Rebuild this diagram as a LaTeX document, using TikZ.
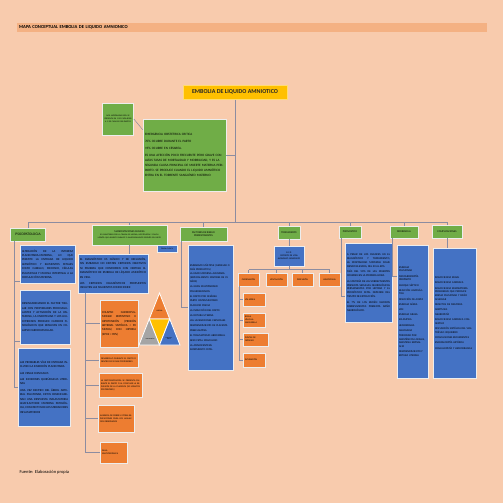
\documentclass[tikz,border=0pt]{standalone}
\usepackage{fontspec}
\setmainfont{Carlito}
\usetikzlibrary{positioning}

\definecolor{fondo}{HTML}{F8CBAD}
\definecolor{barra}{HTML}{F4B183}
\definecolor{verde}{HTML}{70AD47}
\definecolor{azul}{HTML}{4472C4}
\definecolor{naranja}{HTML}{ED7D31}
\definecolor{amarillo}{HTML}{FFC000}
\definecolor{gris}{HTML}{A5A5A5}
\definecolor{linea}{HTML}{8C8CA0}
\definecolor{borde}{HTML}{EDEDED}

\tikzset{
  caja/.style={draw=borde, line width=0.7pt, inner xsep=2pt, inner ysep=1pt, text=black,
    align=justify, font=\fontsize{3}{4.4}\selectfont},
  cabecera/.style={caja, fill=verde, align=center, font=\fontsize{2.6}{3}\selectfont},
  cazul/.style={caja, fill=azul},
  cnaranja/.style={caja, fill=naranja},
  lista/.style={align=left},
  chica/.style={font=\fontsize{2.3}{3}\selectfont},
  conector/.style={draw=linea, line width=0.5pt},
  tri/.style={draw=white, line width=0.8pt},
}

\begin{document}
\begin{tikzpicture}[x=1pt,y=-1pt]
  \useasboundingbox (0,0) rectangle (503,503);
  \fill[fondo] (0,0) rectangle (503,503);

  \node[fill=barra, anchor=north west, minimum height=9pt, text width=466pt, inner xsep=2pt, inner ysep=0pt,
    align=left, text=black, font=\bfseries\fontsize{4.6}{5}\selectfont] (mapa) at (17,23)
    {MAPA CONCEPTUAL EMBOLIA DE LIQUIDO AMNIONICO};

  % titulo y definicion
  \node[fill=amarillo, draw=amarillo!55!white, line width=1pt, minimum width=104pt, minimum height=14pt,
    text=black!85, font=\bfseries\fontsize{6}{7}\selectfont] (emb) at (235,92) {EMBOLIA DE LIQUIDO AMNIOTICO};

  \node[cabecera, text width=27pt, minimum height=32pt, font=\fontsize{2.1}{2.9}\selectfont] (alta) at (118,119)
    {ALTA MORTALIDAD 80\% SE PRESENTA EN 1 DE CADA 8000 A 1 DE CADA 80 000 PARTOS\\[4pt]};

  \node[cabecera, align=left, text width=79pt, minimum height=72pt, font=\fontsize{3.3}{5}\selectfont] (def) at (184.5,155)
    {EMERGENCIA OBSTETRICA CRITICA\\[2pt]
     70\% OCURRE DURANTE EL PARTO\\[2pt]
     19\% OCURRE EN CESAREA.\\[2pt]
     ES UNA AFECCIÓN POCO FRECUENTE PERO GRAVE CON ALTAS TASAS DE MORTALIDAD Y MORBILIDAD, Y ES LA SEGUNDA CAUSA
     PRINCIPAL DE MUERTE MATERNA PERIPARTO. SE PRODUCE CUANDO EL LIQUIDO AMNIÓTICO ENTRA EN EL TORRENTE SANGUÍNEO MATERNO};

  \coordinate (bus) at (235,222);

  % cabeceras
  \node[cabecera, minimum width=35pt, minimum height=13pt, font=\fontsize{3.6}{4}\selectfont] (psico) at (28,234.5) {PSICOPATOLOGIA};
  \node[cabecera, text width=71pt, minimum height=20pt, font=\fontsize{2}{2.8}\selectfont] (manif) at (129.5,235)
    {{\fontsize{2.6}{3.4}\selectfont MANIFESTACIONES CLINICAS}\\
     SE CARACTERIZA POR LA TRIADA DE HIPOXIA, HIPOTENSIÓN Y COAGULOPATÍA QUE APARECE DURANTE O INMEDIATAMENTE DESPUÉS DEL PARTO};
  \node[cabecera, minimum width=47pt, minimum height=14pt] (fact) at (203.5,234) {FACTORES DE RIESGO\\PREDISPONENTES};
  \node[cabecera, minimum width=22pt, minimum height=13pt] (trat) at (289,232.5) {TRATAMIENTO};
  \node[cabecera, minimum width=22pt, minimum height=12pt] (prono) at (350,232) {PRONOSTICO};
  \node[cabecera, minimum width=28pt, minimum height=12pt] (dif) at (404,232) {DIFERENCIAL};
  \node[cabecera, minimum width=30pt, minimum height=13pt] (compl) at (447,231.5) {COMPLICACIONES};

  % psicopatologia
  \node[cazul, text width=51pt, minimum height=38pt] (pat1) at (47.5,264)
    {ALTERACIÓN DE LA INTERFAZ PLACENTARIA-MATERNA, LO QUE PERMITE LA ENTRADA DE LIQUIDO AMNIÓTICO Y ELEMENTOS FETALES
     COMO CABELLO, MECONIO, CÉLULAS ESCAMOSAS Y MUCINA INTESTINAL A LA CIRCULACIÓN MATERNA.};
  \node[cazul, text width=46pt, minimum height=54pt] (pat2) at (45,317)
    {DESENCADENANDO EL FACTOR TISULAR CON PROPIEDADES PROCOAGULANTES Y ACTIVACIÓN DE LA HISTAMINA, LA ENDOTELINA Y LOS
     LEUCOTRIENOS PRODUCE CAMBIOS FISIOLÓGICOS QUE RESULTAN EN COLAPSO CARDIOVASCULAR.};
  \node[cazul, text width=48pt, minimum height=78pt] (pat3) at (44,387)
    {LAS PROBABLES VÍAS DE ENTRADA INCLUYEN LA INSERCIÓN PLACENTARIA\\[2pt]
     LAS VENAS CERVICALES\\[2pt]
     LAS INCISIONES QUIRÚRGICAS UTERINAS\\[2pt]
     UNA VEZ DENTRO DEL ÁRBOL ARTERIAL PULMONAR, ESTOS DESENCADENAN UNA RESPUESTA INFLAMATORIA ANAFILACTOIDE MATERNA
     PATOLÓGICA, CON EFECTOS DE LOS MEDIADORES INFLAMATORIOS};

  % manifestaciones clinicas
  \node[cazul, text width=66pt, minimum height=39pt] (clin) at (113,273.5)
    {EL DIAGNÓSTICO ES CLÍNICO Y DE EXCLUSIÓN, SIN EMBARGO NO EXISTEN CRITERIOS OBJETIVOS NI PRUEBAS QUE CONFIRMEN
     CON CERTEZA EL DIAGNÓSTICO DE EMBOLIA DE LÍQUIDO AMNIÓTICO EN VIDA.\\[2pt]
     LOS CRITERIOS DIAGNÓSTICOS PROPUESTOS INCLUYEN LAS SIGUIENTES CONDICIONES:};
  \node[cazul, minimum width=20pt, minimum height=7pt, inner sep=0.5pt, font=\fontsize{1.8}{2}\selectfont] (triada) at (167,248.5)
    {TRIADA CLÁSICA};

  \node[cnaranja, text width=34pt, minimum height=47pt] (sig1) at (119,323.5)
    {COLAPSO CARDIOPULMONAR REPENTINO E HIPOTENSIÓN (PRESIÓN ARTERIAL SISTÓLICA < 90 MMHG) CON HIPOXIA (SPO2 < 90\%)};
  \node[cnaranja, chica, text width=35pt, minimum height=14pt] (sig2) at (118.5,360)
    {DESARROLLO DURANTE EL PARTO O DENTRO DE 30 MIN POSTERIORES};
  \node[cnaranja, chica, text width=39pt, minimum height=24pt] (sig3) at (120.5,385)
    {LA SINTOMATOLOGÍA SE PRESENTA DURANTE EL PARTO O AL CONCLUIR LA EXPULSIÓN DE LA PLACENTA (30 MINUTOS POSTERIORES)};
  \node[cnaranja, chica, text width=32pt, minimum height=27pt] (sig4) at (116,418.5)
    {AUSENCIA DE FIEBRE U OTRAS EXPLICACIONES PARA LOS HALLAZGOS OBSERVADOS};
  \node[cnaranja, chica, lista, text width=23pt, minimum height=21pt] (sig5) at (113.5,452.5)
    {FALLA\\MULTIORGÁNICA};

  % triada
  \coordinate (ta) at (159.5,293);
  \coordinate (tb) at (139,345);
  \coordinate (tc) at (180,345);
  \coordinate (tab) at (149.25,319);
  \coordinate (tac) at (169.75,319);
  \coordinate (tbc) at (159.5,345);
  \filldraw[tri, fill=naranja] (ta) -- (tab) -- (tac) -- cycle;
  \filldraw[tri, fill=amarillo] (tab) -- (tac) -- (tbc) -- cycle;
  \filldraw[tri, fill=gris] (tab) -- (tb) -- (tbc) -- cycle;
  \filldraw[tri, fill=azul] (tac) -- (tbc) -- (tc) -- cycle;
  \node[font=\fontsize{1.8}{2.2}\selectfont] (hipox) at (159.5,311) {HIPOXIA};
  \node[font=\fontsize{1.5}{1.9}\selectfont] (hipot) at (150,339) {HIPOTENSIÓN};
  \node[font=\fontsize{1.5}{1.9}\selectfont, align=center] (coag) at (169,338.5) {COAGULO-\\PATÍA};

  % factores de riesgo
  \node[cazul, lista, text width=41pt, minimum height=125pt, font=\fontsize{2.7}{3.7}\selectfont] (frbox) at (210.5,307.5)
    {EMBARAZO MÚLTIPLE (GEMELAR O MÁS PRODUCTOS)\\[1.2pt]
     LA EDAD MATERNA AVANZADA (ESPECIALMENTE MAYORES DE 35 AÑOS)\\[1.2pt]
     LA GRAN MULTIPARIDAD\\[1.2pt]
     POLIHIDRAMNIOS\\[1.2pt]
     EL PARTO POR CESÁREA\\[1.2pt]
     PARTO INSTRUMENTADO\\[1.2pt]
     PLACENTA PREVIA\\[1.2pt]
     LA INDUCCIÓN DEL PARTO\\[1.2pt]
     LA ROTURA UTERINA\\[1.2pt]
     LAS LACERACIONES CERVICALES\\[1.2pt]
     DESPRENDIMIENTO DE PLACENTA\\[1.2pt]
     PREECLAMPSIA\\[1.2pt]
     EL TRAUMATISMO ABDOMINAL\\[1.2pt]
     SEXO FETAL MASCULINO\\[1.2pt]
     LA AMNIOCENTESIS\\[1.2pt]
     SUFRIMIENTO FETAL};

  % tratamiento
  \node[cazul, align=center, chica, text width=26pt, minimum height=20pt] (rcp) at (289,256)
    {R.C.P.\\SOPORTE DE VIDA\\AVANZADO INMEDIATO};
  \coordinate (tbus) at (289,269.5);
  \node[cnaranja, chica, align=center, minimum width=21pt, minimum height=13pt, inner xsep=0.5pt] (ox) at (248.5,279.5) {OXIGENACIÓN};
  \node[cnaranja, chica, align=center, minimum width=21pt, minimum height=13pt, inner xsep=0.5pt] (ve) at (276.5,279.5) {VENTILACIÓN};
  \node[cnaranja, chica, align=center, minimum width=21pt, minimum height=13pt, inner xsep=0.5pt] (pe) at (302.5,279.5) {PERFUSIÓN};
  \node[cnaranja, chica, align=center, minimum width=21pt, minimum height=13pt, inner xsep=0.5pt] (he) at (329.5,279.5) {HEMOSTASIA};

  \node[cnaranja, chica, lista, text width=18pt, minimum height=13pt] (via) at (254,299.5) {VÍA AÉREA};
  \node[cnaranja, chica, lista, text width=18pt, minimum height=14pt] (bolsa) at (254,320) {BOLSA\\VÁLVULA\\MASCARILLA};
  \node[cnaranja, chica, lista, text width=21pt, minimum height=13pt] (puntas) at (255.5,339.5) {PUNTAS DE\\OXÍGENO};
  \node[cnaranja, chica, lista, text width=18pt, minimum height=14pt] (intub) at (254,360) {INTUBACIÓN};

  % pronostico
  \node[cazul, text width=43pt, minimum height=79pt, font=\fontsize{2.8}{3.9}\selectfont] (progtxt) at (368.5,282.5)
    {A PESAR DE LOS AVANCES EN EL DIAGNÓSTICO Y TRATAMIENTO, LA MORTALIDAD MATERNA SIGUE SIENDO ELEVADA, DEL 20 AL 60\%.\\[1.5pt]
     MÁS DEL 50\% DE LAS MUERTES OCURREN EN LA PRIMERA HORA.\\[1.5pt]
     LA MAYORÍA DE LAS SOBREVIVIENTES PRESENTA SECUELAS NEUROLÓGICAS PERMANENTES POR HIPOXIA Y EL PRONÓSTICO FETAL
     DEPENDE DEL TIEMPO DE EXTRACCIÓN.\\[1.5pt]
     EL 7\% DE LOS RECIÉN NACIDOS SOBREVIVIENTES PRESENTA DAÑO NEUROLÓGICO.};

  % diferencial
  \node[cazul, lista, text width=27pt, minimum height=133pt, font=\fontsize{2.7}{3.7}\selectfont] (diftxt) at (412.5,311.5)
    {EMBOLIA\\PULMONAR\\[1.5pt]
     MIOCARDIOPATÍA\\PERIPARTO\\[1.5pt]
     CHOQUE SÉPTICO\\[1.5pt]
     REACCIÓN ANAFILÁCTICA\\[1.5pt]
     DISECCIÓN DE AORTA\\[1.5pt]
     EMBOLIA AÉREA\\[1.5pt]
     IAM\\[1.5pt]
     EMBOLIA GRASA\\[1.5pt]
     ECLAMPSIA\\[1.5pt]
     HEMORRAGIA\\[1.5pt]
     ANAFILAXIA\\[1.5pt]
     TOXICIDAD POR ANESTÉSICOS LOCALES, ANESTESIA ESPINAL ALTA\\[1.5pt]
     DESPRENDIMIENTO Y ROTURA UTERINA};

  % complicaciones
  \node[cazul, lista, text width=39pt, minimum height=130pt, font=\fontsize{2.7}{3.7}\selectfont] (comptxt) at (454.5,313)
    {INSUFICIENCIA RENAL\\[1.5pt]
     INSUFICIENCIA CARDIACA\\[1.5pt]
     INSUFICIENCIA RESPIRATORIA PROGRESIVA QUE PRODUCE EDEMA PULMONAR Y DAÑO ALVEOLAR\\[1.5pt]
     DEFECTOS DE MEMORIA\\[1.5pt]
     ARRITMIAS\\[1.5pt]
     NEUROPATÍA\\[1.5pt]
     INSUFICIENCIA CARDIACA CONGESTIVA\\[1.5pt]
     DISFUNCIÓN SISTÓLICA DEL VENTRÍCULO IZQUIERDO\\[1.5pt]
     CONVULSIONES RECURRENTES\\[1.5pt]
     ENCEFALOPATÍA HIPÓXICA\\[1.5pt]
     COAGULOPATÍA Y HEMORRAGIAS};

  \node[anchor=west, font=\fontsize{4.5}{5}\selectfont] (fuente) at (16,472) {Fuente: Elaboración propia};

  % conectores
  \draw[conector] (emb.south) -- (bus);
  \draw[conector] (def.east) -- (def.east -| bus);
  \draw[conector] (alta.east) -- ([yshift=-11pt]def.north west);
  \draw[conector] (psico.north |- bus) -- (compl.north |- bus);
  \foreach \n in {psico,manif,fact,trat,prono,dif,compl}
    \draw[conector] (\n.north) -- (\n.north |- bus);

  \draw[conector] ([xshift=4pt]psico.south west) |- ([yshift=2pt]pat1.south west);
  \draw[conector] ([xshift=4pt]psico.south west) |- ([yshift=3pt]pat2.south west);
  \draw[conector] ([xshift=4pt]psico.south west) |- (pat3.west);

  \draw[conector] (manif.south) -- (manif.south |- clin.north);
  \foreach \n in {sig1,sig2,sig3,sig4,sig5}
    \draw[conector] ([xshift=8pt]clin.south west) |- (\n.west);

  \draw[conector] ([xshift=2pt]fact.south west) |- (frbox.west);

  \draw[conector] (trat.south) -- (rcp.north);
  \draw[conector] (rcp.south) -- (tbus);
  \draw[conector] (ox.north |- tbus) -- (he.north |- tbus);
  \foreach \n in {ox,ve,pe,he}
    \draw[conector] (\n.north) -- (\n.north |- tbus);
  \foreach \n in {via,bolsa,puntas,intub}
    \draw[conector] ([xshift=2pt]ox.south west) |- (\n.west);

  \draw[conector] ([xshift=3pt]prono.south west) |- ([yshift=-14pt]progtxt.west);
  \draw[conector] ([xshift=3pt]dif.south west) |- ([yshift=35pt]diftxt.west);
  \draw[conector] (compl.south) -- (comptxt.north -| compl.south);
\end{tikzpicture}
\end{document}
